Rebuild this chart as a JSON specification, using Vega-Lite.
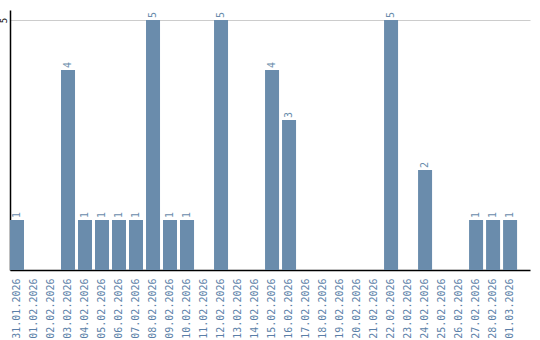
{
  "$schema": "https://vega.github.io/schema/vega-lite/v6.json",
  "autosize": "none",
  "width": 520,
  "height": 260,
  "padding": {"left": 10, "top": 10, "right": 10, "bottom": 70},
  "background": "white",
  "config": {"view": {"stroke": null}, "font": "DejaVu Sans Mono"},
  "data": {
    "values": [
      {"date": "31.01.2026", "count": 1},
      {"date": "01.02.2026", "count": 0},
      {"date": "02.02.2026", "count": 0},
      {"date": "03.02.2026", "count": 4},
      {"date": "04.02.2026", "count": 1},
      {"date": "05.02.2026", "count": 1},
      {"date": "06.02.2026", "count": 1},
      {"date": "07.02.2026", "count": 1},
      {"date": "08.02.2026", "count": 5},
      {"date": "09.02.2026", "count": 1},
      {"date": "10.02.2026", "count": 1},
      {"date": "11.02.2026", "count": 0},
      {"date": "12.02.2026", "count": 5},
      {"date": "13.02.2026", "count": 0},
      {"date": "14.02.2026", "count": 0},
      {"date": "15.02.2026", "count": 4},
      {"date": "16.02.2026", "count": 3},
      {"date": "17.02.2026", "count": 0},
      {"date": "18.02.2026", "count": 0},
      {"date": "19.02.2026", "count": 0},
      {"date": "20.02.2026", "count": 0},
      {"date": "21.02.2026", "count": 0},
      {"date": "22.02.2026", "count": 5},
      {"date": "23.02.2026", "count": 0},
      {"date": "24.02.2026", "count": 2},
      {"date": "25.02.2026", "count": 0},
      {"date": "26.02.2026", "count": 0},
      {"date": "27.02.2026", "count": 1},
      {"date": "28.02.2026", "count": 1},
      {"date": "01.03.2026", "count": 1}
    ]
  },
  "encoding": {
    "x": {
      "field": "date", "type": "nominal", "sort": null,
      "scale": {"paddingInner": 0.176, "paddingOuter": 0.38, "align": 0},
      "axis": {
        "title": null, "labelAngle": 270, "labelAlign": "right", "labelBaseline": "middle",
        "ticks": false, "domainColor": "black", "domainWidth": 1.5, "labelPadding": 8,
        "labelColor": "#5b7fa8", "labelFont": "DejaVu Sans Mono", "labelFontSize": 10
      }
    },
    "y": {
      "field": "count", "type": "quantitative",
      "scale": {"domain": [0, 5.2], "nice": false},
      "axis": {
        "title": null, "values": [5], "grid": true, "gridColor": "#cccccc", "gridWidth": 1,
        "ticks": false, "domainColor": "black", "domainWidth": 1.5,
        "labelAngle": 270, "labelAlign": "center", "labelBaseline": "bottom", "labelPadding": 2,
        "labelColor": "black", "labelFont": "DejaVu Sans Mono", "labelFontSize": 9
      }
    }
  },
  "layer": [
    {"mark": {"type": "bar", "color": "#6a8cac"}},
    {
      "transform": [{"filter": "datum.count > 0"}],
      "mark": {"type": "text", "angle": 270, "align": "left", "baseline": "middle", "dx": 2, "color": "#6a8cac", "font": "DejaVu Sans Mono", "fontSize": 10},
      "encoding": {"text": {"field": "count", "type": "quantitative"}}
    }
  ]
}
